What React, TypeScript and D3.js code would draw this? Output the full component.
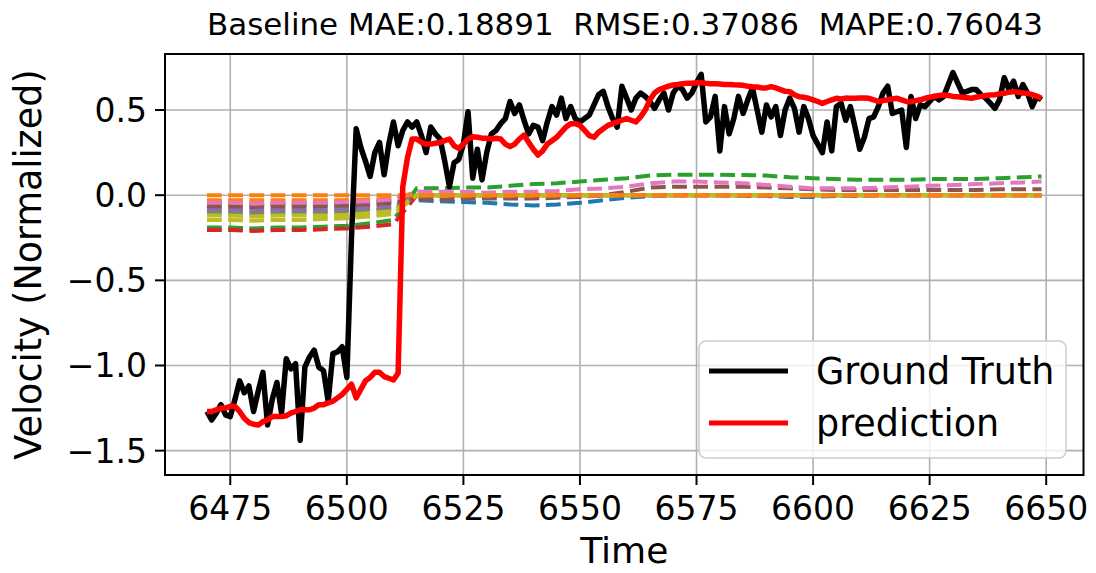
import React from "react";
import * as d3 from "d3";

const width = 1096;
const height = 573;
const plot = { left: 165, right: 1083.5, top: 54, bottom: 475 };

const xDomain = [6461, 6658];
const yDomain = [-1.643, 0.829];
const xTicks = [6475, 6500, 6525, 6550, 6575, 6600, 6625, 6650];
const yTicks = [0.5, 0.0, -0.5, -1.0, -1.5];
const title = "Baseline MAE:0.18891  RMSE:0.37086  MAPE:0.76043";

const startTime = 6470;

const groundTruth = [
  -1.27, -1.32, -1.28, -1.23, -1.29, -1.3, -1.2, -1.09, -1.16, -1.12,
  -1.27, -1.15, -1.04, -1.35, -1.2, -1.1, -1.28, -0.96, -1.02, -0.99,
  -1.44, -1.01, -0.95, -0.91, -1.01, -1.03, -1.21, -0.93, -0.92, -0.89,
  -1.07, -0.25, 0.39, 0.28, 0.2, 0.11, 0.25, 0.31, 0.12, 0.3,
  0.43, 0.29, 0.38, 0.43, 0.4, 0.43, 0.35, 0.25, 0.4, 0.36,
  0.33, 0.2, 0.05, 0.19, 0.21, 0.3, 0.49, 0.1, 0.27, 0.09,
  0.25, 0.36, 0.38, 0.42, 0.45, 0.55, 0.48, 0.53, 0.44, 0.36,
  0.41, 0.4, 0.32, 0.43, 0.52, 0.47, 0.57, 0.45, 0.52, 0.45,
  0.43, 0.45, 0.47, 0.53, 0.59, 0.61, 0.52, 0.45, 0.4, 0.64,
  0.57, 0.5, 0.57, 0.6, 0.58, 0.55, 0.51, 0.56, 0.6, 0.5,
  0.6, 0.64, 0.62, 0.57, 0.6, 0.66, 0.71, 0.43, 0.46, 0.58,
  0.26, 0.52, 0.36, 0.45, 0.58, 0.48, 0.56, 0.63, 0.5, 0.37,
  0.53, 0.46, 0.52, 0.35, 0.5, 0.57, 0.51, 0.37, 0.52, 0.45,
  0.35, 0.3, 0.25, 0.43, 0.26, 0.52, 0.54, 0.44, 0.52, 0.4,
  0.27, 0.34, 0.45, 0.46, 0.52, 0.6, 0.64, 0.48, 0.49, 0.5,
  0.28, 0.58, 0.45, 0.53, 0.52, 0.55, 0.58, 0.56, 0.58, 0.65,
  0.72, 0.66, 0.6, 0.61, 0.62, 0.62, 0.59, 0.57, 0.54, 0.51,
  0.56, 0.69, 0.62, 0.67, 0.58, 0.65, 0.6, 0.52, 0.58, 0.56,
];

const prediction = [
  -1.27, -1.27, -1.26, -1.25, -1.25, -1.24, -1.24, -1.27, -1.31, -1.335,
  -1.345, -1.35, -1.33, -1.32, -1.3, -1.3, -1.3, -1.295, -1.28, -1.27,
  -1.26, -1.26, -1.26, -1.25, -1.23, -1.23, -1.22, -1.21, -1.19, -1.17,
  -1.14, -1.11, -1.19, -1.14, -1.09, -1.07, -1.04, -1.04, -1.065, -1.075,
  -1.085, -1.045, 0.05, 0.22, 0.33, 0.33, 0.31, 0.3, 0.3, 0.305,
  0.31, 0.32, 0.33, 0.29, 0.275, 0.3, 0.33, 0.343, 0.34, 0.335,
  0.334, 0.33, 0.334, 0.33, 0.3, 0.285, 0.3, 0.33, 0.353, 0.31,
  0.27, 0.236, 0.26, 0.3, 0.32, 0.34, 0.37, 0.4, 0.42, 0.42,
  0.41, 0.38, 0.35, 0.34, 0.37, 0.39, 0.41, 0.42, 0.43, 0.44,
  0.45, 0.44, 0.43, 0.46, 0.5, 0.56, 0.6, 0.62, 0.63, 0.64,
  0.647, 0.65, 0.655, 0.657, 0.657, 0.66, 0.66, 0.657, 0.655, 0.655,
  0.653, 0.65, 0.65, 0.648, 0.647, 0.645, 0.64, 0.637, 0.635, 0.63,
  0.63, 0.637, 0.63, 0.62, 0.61, 0.608, 0.59, 0.578, 0.575, 0.569,
  0.56, 0.55, 0.539, 0.55, 0.56, 0.569, 0.565, 0.57, 0.569, 0.569,
  0.57, 0.57, 0.569, 0.56, 0.549, 0.555, 0.56, 0.565, 0.569, 0.56,
  0.55, 0.549, 0.555, 0.56, 0.569, 0.575, 0.58, 0.585, 0.588, 0.585,
  0.58, 0.578, 0.575, 0.572, 0.569, 0.575, 0.58, 0.585, 0.588, 0.59,
  0.595, 0.598, 0.605, 0.608, 0.605, 0.6, 0.598, 0.59, 0.58, 0.569,
];

// baseline horizons, sampled every 5 steps
const baselineTimes = [
  6470, 6475, 6480, 6485, 6490, 6495, 6500, 6505, 6510, 6515, 6520, 6525,
  6530, 6535, 6540, 6545, 6550, 6555, 6560, 6565, 6570, 6575, 6580, 6585,
  6590, 6595, 6600, 6605, 6610, 6615, 6620, 6625, 6630, 6635, 6640, 6645, 6649,
];

const blueBase = [
  -0.05, -0.05, -0.055, -0.05, -0.05, -0.05, -0.045, -0.04, -0.035,
  -0.03, -0.035, -0.04, -0.045, -0.055, -0.06, -0.055, -0.045, -0.03, -0.015,
  -0.005, 0, 0, 0, -0.005, -0.005, -0.01, -0.01, -0.005, -0.005,
  0, 0, 0, 0, 0, 0, 0, 0,
];
const orangeBase = [
  -0.03, -0.03, -0.03, -0.03, -0.03, -0.03, -0.03, -0.025, -0.02,
  0, 0, 0, 0, 0, 0, 0, 0, 0, 0, 0, 0, 0, 0, 0, 0, 0, 0, 0, 0, 0, 0, 0, 0, 0, 0, 0, 0,
];
const greenBase = [
  -0.19, -0.19, -0.195, -0.19, -0.19, -0.185, -0.18, -0.165, -0.145,
  0.04, 0.04, 0.045, 0.045, 0.055, 0.065, 0.07, 0.08, 0.09, 0.1,
  0.115, 0.12, 0.12, 0.12, 0.118, 0.115, 0.105, 0.1, 0.095, 0.09,
  0.09, 0.09, 0.095, 0.095, 0.095, 0.1, 0.105, 0.11,
];
const redBase = [
  -0.205, -0.205, -0.21, -0.205, -0.205, -0.2, -0.195, -0.185, -0.17,
  0, 0, 0, 0, 0, 0, 0, 0, 0, 0, 0, 0, 0, 0, 0, 0, 0, 0, 0, 0, 0, 0, 0, 0, 0, 0, 0, 0,
];
const purpleBase = [
  -0.085, -0.085, -0.09, -0.085, -0.085, -0.085, -0.08, -0.075, -0.065,
  0, 0, 0, 0, 0, 0, 0, 0, 0, 0, 0, 0, 0, 0, 0, 0, 0, 0, 0, 0, 0, 0, 0, 0, 0, 0, 0, 0,
];
const brownBase = [
  -0.065, -0.065, -0.07, -0.065, -0.065, -0.065, -0.06, -0.055, -0.045,
  -0.02, -0.025, -0.02, -0.02, -0.02, -0.02, -0.015, -0.01, 0, 0.02,
  0.045, 0.05, 0.05, 0.05, 0.05, 0.045, 0.04, 0.035, 0.03, 0.03,
  0.03, 0.03, 0.03, 0.03, 0.03, 0.035, 0.035, 0.035,
];
const pinkBase = [
  -0.045, -0.045, -0.05, -0.045, -0.045, -0.045, -0.04, -0.035, -0.025,
  0.02, 0.02, 0.02, 0.015, 0.02, 0.02, 0.025, 0.035, 0.04, 0.05,
  0.07, 0.08, 0.08, 0.075, 0.07, 0.06, 0.05, 0.04, 0.04, 0.04,
  0.045, 0.05, 0.055, 0.06, 0.065, 0.07, 0.075, 0.08,
];
const grayBase = [
  -0.1, -0.1, -0.105, -0.1, -0.1, -0.1, -0.095, -0.09, -0.08,
  0, 0, 0, 0, 0, 0, 0, 0, 0, 0, 0, 0, 0, 0, 0, 0, 0, 0, 0, 0, 0, 0, 0, 0, 0, 0, 0, 0,
];
const oliveBase = [
  -0.12, -0.12, -0.125, -0.12, -0.12, -0.12, -0.115, -0.105, -0.095,
  0, 0, 0, 0, 0, 0, 0, 0, 0, 0, 0, 0, 0, 0, 0, 0, 0, 0, 0, 0, 0, 0, 0, 0, 0, 0, 0, 0,
];
const olive2Base = [
  -0.145, -0.145, -0.15, -0.145, -0.145, -0.14, -0.135, -0.125, -0.11,
  0, 0, 0, 0, 0, 0, 0, 0, 0, 0, 0, 0, 0, 0, 0, 0, 0, 0, 0, 0, 0, 0, 0, 0, 0, 0, 0, 0,
];
const zeroBase = [
  0, 0, 0, 0, 0, 0, 0, 0, 0, 0, 0, 0, 0, 0, 0, 0, 0, 0, 0,
  0, 0, 0, 0, 0, 0, 0, 0, 0, 0, 0, 0, 0, 0, 0, 0, 0, 0,
];

const baselines = [
  { color: "#1f77b4", values: blueBase },
  { color: "#ff7f0e", values: orangeBase },
  { color: "#2ca02c", values: greenBase },
  { color: "#d62728", values: redBase },
  { color: "#9467bd", values: purpleBase },
  { color: "#8c564b", values: brownBase },
  { color: "#e377c2", values: pinkBase },
  { color: "#7f7f7f", values: grayBase },
  { color: "#bcbd22", values: oliveBase },
  { color: "#bcbd22", values: olive2Base },
  { color: "#ff7f0e", values: zeroBase },
];

const font = "'DejaVu Sans', sans-serif";

export default function App() {
  const x = d3.scaleLinear().domain(xDomain).range([plot.left, plot.right]);
  const y = d3.scaleLinear().domain(yDomain).range([plot.bottom, plot.top]);

  const line = d3
    .line<number>()
    .x((d, i) => x(startTime + i))
    .y((d) => y(d));

  const baseLine = d3
    .line<number>()
    .x((d, i) => x(baselineTimes[i]))
    .y((d) => y(d));

  const fmtY = (v: number) => d3.format(".1f")(v).replace("-", "\u2212");

  return (
    <svg
      width={width}
      height={height}
      style={{ position: "absolute", left: 0, top: 0, background: "#fff" }}
      fontFamily={font}
    >
      <defs>
        <clipPath id="plotClip">
          <rect x={plot.left} y={plot.top} width={plot.right - plot.left} height={plot.bottom - plot.top} />
        </clipPath>
      </defs>

      {/* grid */}
      {xTicks.map((t) => (
        <line key={"gx" + t} x1={x(t)} x2={x(t)} y1={plot.top} y2={plot.bottom} stroke="#b0b0b0" strokeWidth={1.6} />
      ))}
      {yTicks.map((t) => (
        <line key={"gy" + t} x1={plot.left} x2={plot.right} y1={y(t)} y2={y(t)} stroke="#b0b0b0" strokeWidth={1.6} />
      ))}

      <g clipPath="url(#plotClip)">
        {baselines.map((b, i) => (
          <path
            key={"b" + i}
            d={baseLine(b.values) || ""}
            fill="none"
            stroke={b.color}
            strokeWidth={4}
            strokeDasharray="14.8 6.4"
          />
        ))}
        <path d={line(groundTruth) || ""} fill="none" stroke="#000" strokeWidth={5.5} strokeLinejoin="round" />
        <path d={line(prediction) || ""} fill="none" stroke="#ff0000" strokeWidth={5.5} strokeLinejoin="round" />
      </g>

      {/* frame */}
      <rect
        x={plot.left}
        y={plot.top}
        width={plot.right - plot.left}
        height={plot.bottom - plot.top}
        fill="none"
        stroke="#000"
        strokeWidth={2}
      />

      {/* x ticks */}
      {xTicks.map((t) => (
        <g key={"xt" + t} transform={`translate(${x(t)},${plot.bottom})`}>
          <line y2={10} stroke="#000" strokeWidth={2} />
          <text y={45} textAnchor="middle" fontSize={33}>
            {t}
          </text>
        </g>
      ))}

      {/* y ticks */}
      {yTicks.map((t) => (
        <g key={"yt" + t} transform={`translate(${plot.left},${y(t)})`}>
          <line x2={-10} stroke="#000" strokeWidth={2} />
          <text x={-18} dy="0.36em" textAnchor="end" fontSize={33}>
            {fmtY(t)}
          </text>
        </g>
      ))}

      {/* labels */}
      <text x={(plot.left + plot.right) / 2} y={563} textAnchor="middle" fontSize={36}>
        Time
      </text>
      <text
        transform={`translate(41,${(plot.top + plot.bottom) / 2}) rotate(-90)`}
        textAnchor="middle"
        fontSize={36.5}
      >
        Velocity (Normalized)
      </text>
      <text
        x={625}
        y={35}
        textAnchor="middle"
        fontSize={30}
        textLength={836}
        lengthAdjust="spacingAndGlyphs"
        style={{ whiteSpace: "pre" }}
      >
        {title}
      </text>

      {/* legend */}
      <g>
        <rect x={699} y={341} width={367} height={117} rx={7} fill="#fff" fillOpacity={0.8} stroke="#cccccc" strokeWidth={1.5} />
        <line x1={709} x2={788} y1={371} y2={371} stroke="#000" strokeWidth={5} />
        <text x={816} y={384} fontSize={36.5}>Ground Truth</text>
        <line x1={709} x2={788} y1={423} y2={423} stroke="#ff0000" strokeWidth={5} />
        <text x={816} y={436} fontSize={36.5}>prediction</text>
      </g>
    </svg>
  );
}
